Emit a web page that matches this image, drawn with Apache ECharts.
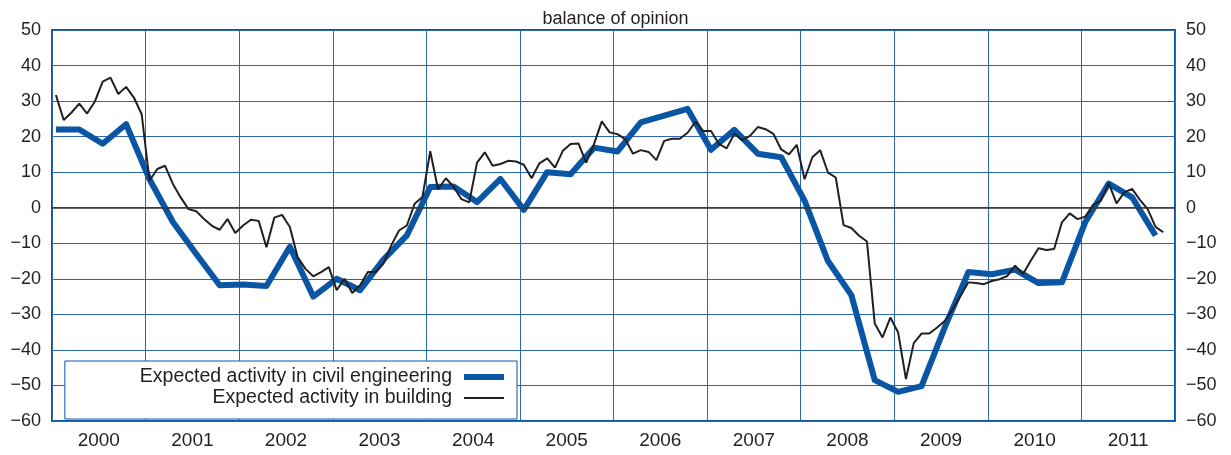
<!DOCTYPE html>
<html>
<head>
<meta charset="utf-8">
<script src="https://cdn.jsdelivr.net/npm/echarts@6/dist/echarts.min.js"></script>
<style>
  html, body { margin: 0; padding: 0; background: #fff; }
  #chart { width: 1231px; height: 455px; }
</style>
</head>
<body>
<div id="chart"></div>
<script>
// year bands on the x axis
const years = ['2000', '2001', '2002', '2003', '2004', '2005', '2006', '2007', '2008', '2009', '2010', '2011'];

// civil engineering, quarterly (Jan, Apr, Jul, Oct of each year)
const civilEngineering = [
  22, 22, 18, 23.5,
  8, -4, -13, -21.8,
  -21.6, -22, -11, -25,
  -20, -23.2, -14.6, -7.8,
  5.8, 6, 1.6, 8.1,
  -0.6, 10, 9.4, 16.9,
  15.8, 24, 25.9, 27.8,
  16.3, 21.9, 15.2, 14.2,
  2, -15, -24.6, -48.5,
  -51.8, -50.2, -33.5, -18.1,
  -18.7, -17.4, -21.2, -21,
  -4, 6.8, 2.9, -7.8
];

// building, monthly from Jan 2000
const building = [
  31.7, 24.7, 26.8, 29.3, 26.5, 29.9, 35.5, 36.6, 32, 34, 31, 26.3,
  7.6, 10.9, 11.8, 6.7, 2.9, -0.4, -1, -3.2, -5.1, -6.2, -3.2, -7.1,
  -5, -3.4, -3.7, -11.1, -2.8, -2, -5.4, -13.9, -17.2, -19.3, -18.1, -16.7,
  -23.2, -20, -24, -21.8, -18.1, -18.1, -15.7, -10.6, -6.4, -5, 1.1, 3,
  15.9, 5.2, 8.3, 5.9, 2.4, 1.5, 12.7, 15.6, 11.8, 12.3, 13.2, 13,
  12.1, 8.3, 12.5, 13.9, 11.3, 16, 17.9, 18.1, 12.7, 17.9, 24.3, 21.2,
  20.7, 19.3, 15.2, 16.2, 15.7, 13.4, 18.8, 19.4, 19.4, 21.1, 24.2, 21.6,
  21.6, 18, 16.7, 20.8, 19, 20.2, 22.7, 22.1, 20.8, 16.4, 15, 17.7,
  8, 14.2, 16.2, 9.9, 8.5, -4.9, -5.7, -7.9, -9.5, -32.6, -36.5, -30.9,
  -35.1, -48.2, -38.1, -35.4, -35.4, -33.7, -31.8, -28.5, -24.8, -21, -21.2, -21.5,
  -20.6, -20.1, -19.2, -16.3, -18.7, -14.9, -11.4, -11.9, -11.6, -4.1, -1.6, -3.2,
  -2.5, 0.8, 2, 6.9, 1.2, 4.3, 5.3, 2.2, -0.4, -5.4, -6.9
];

const seriesNames = ['Expected activity in civil engineering', 'Expected activity in building'];

const blue = '#0a56a5';
const gridBlue = '#2c66ad';
const ink = '#231f20';
const font = 'Liberation Sans';

const civilPoints = civilEngineering.map((v, i) => [i * 3 + 0.5, v]);
const buildingPoints = building.map((v, i) => [i + 0.5, v]);

const fmtY = v => (v < 0 ? '\u2212' + Math.abs(v) : String(v));

const chart = echarts.init(document.getElementById('chart'));
const option = {
  animation: false,
  backgroundColor: '#fff',
  title: {
    text: 'balance of opinion',
    left: 'center',
    top: 5,
    textStyle: { fontFamily: font, fontSize: 18, fontWeight: 'normal', color: ink }
  },
  legend: {
    data: [
      { name: seriesNames[0], icon: 'path://M0,0H40V6H0Z' },
      { name: seriesNames[1], icon: 'path://M0,0H40V2.2H0Z' }
    ],
    orient: 'vertical',
    align: 'right',
    right: 714,
    top: 361,
    padding: [6, 13, 11, 75],
    itemGap: 1,
    itemWidth: 40,
    itemHeight: 19,
    symbolKeepAspect: true,
    itemStyle: { borderWidth: 0 },
    backgroundColor: '#fff',
    borderColor: blue,
    borderWidth: 1,
    borderRadius: 0,
    textStyle: { fontFamily: font, fontSize: 19.5, color: ink, padding: [0, 7, 0, 0] }
  },
  grid: {
    left: 52,
    right: 56,
    top: 30,
    bottom: 34,
    show: true,
    borderColor: blue,
    borderWidth: 2
  },
  xAxis: [
    {
      type: 'category',
      data: years,
      boundaryGap: true,
      axisLine: { show: false },
      axisTick: { show: false },
      axisLabel: { margin: 10, fontFamily: font, fontSize: 19, color: ink, interval: 0 },
      splitLine: { show: true, interval: 0, lineStyle: { color: gridBlue, width: 1 } }
    },
    {
      type: 'value',
      min: 0,
      max: years.length * 12,
      show: false
    }
  ],
  yAxis: [
    {
      type: 'value',
      min: -60,
      max: 50,
      interval: 10,
      position: 'left',
      axisLine: { show: false },
      axisTick: { show: false },
      axisLabel: { margin: 11, fontFamily: font, fontSize: 18, color: ink, formatter: fmtY },
      splitLine: { show: true, lineStyle: { color: gridBlue, width: 1 } }
    },
    {
      type: 'value',
      min: -60,
      max: 50,
      interval: 10,
      position: 'right',
      axisLine: { show: false },
      axisTick: { show: false },
      axisLabel: { margin: 11, fontFamily: font, fontSize: 18, color: ink, formatter: fmtY },
      splitLine: { show: false }
    }
  ],
  series: [
    {
      name: seriesNames[0],
      type: 'line',
      xAxisIndex: 1,
      yAxisIndex: 0,
      data: civilPoints,
      symbol: 'none',
      z: 3,
      lineStyle: { color: blue, width: 6, join: 'round' },
      itemStyle: { color: blue }
    },
    {
      name: seriesNames[1],
      type: 'line',
      xAxisIndex: 1,
      yAxisIndex: 0,
      data: buildingPoints,
      symbol: 'none',
      z: 4,
      lineStyle: { color: ink, width: 2 },
      itemStyle: { color: ink },
      markLine: {
        silent: true,
        symbol: 'none',
        label: { show: false },
        lineStyle: { color: '#333', width: 1.5, type: 'solid' },
        data: [{ yAxis: 0 }]
      }
    }
  ]
};
chart.setOption(option);
</script>
</body>
</html>
